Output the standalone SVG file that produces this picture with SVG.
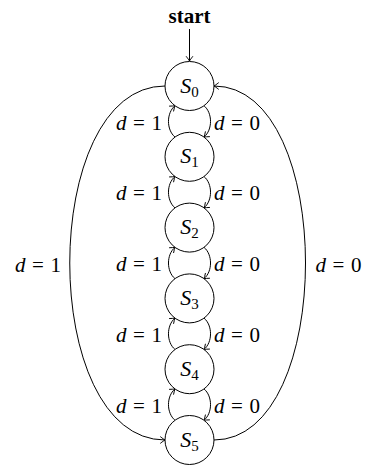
<svg xmlns="http://www.w3.org/2000/svg" width="366" height="469" viewBox="0 0 366 469">
<style>
.st{fill:#fff;stroke:#000;stroke-width:1}
.lbl{font-family:"Liberation Serif",serif;font-size:21px;fill:#000}
.nl{font-size:22px}
.e{fill:none;stroke:#000;stroke-width:1}
.it{font-style:italic}
.sub{font-size:15px}
</style>
<defs>
<marker id="arr" viewBox="-6 -6 8 12" markerWidth="8" markerHeight="12" refX="0" refY="0" orient="auto" markerUnits="userSpaceOnUse" overflow="visible">
<path d="M-4.5,-3.2 Q-1.5,-0.8 0,0 Q-1.5,0.8 -4.5,3.2" fill="none" stroke="#000" stroke-width="0.9" stroke-linecap="round"/>
</marker>
</defs>
<g id="connectors">
<line class="e" x1="189.5" y1="29" x2="189.5" y2="61" marker-end="url(#arr)"/>
<path class="e" d="M175,137.1 C166.3,129.8 166.3,113 175,105.7" marker-end="url(#arr)"/>
<path class="e" d="M204,105.7 C212.7,113 212.7,129.8 204,137.1" marker-end="url(#arr)"/>
<path class="e" d="M175,207.9 C166.3,200.6 166.3,183.8 175,176.5" marker-end="url(#arr)"/>
<path class="e" d="M204,176.5 C212.7,183.8 212.7,200.6 204,207.9" marker-end="url(#arr)"/>
<path class="e" d="M175,278.7 C166.3,271.4 166.3,254.6 175,247.3" marker-end="url(#arr)"/>
<path class="e" d="M204,247.3 C212.7,254.6 212.7,271.4 204,278.7" marker-end="url(#arr)"/>
<path class="e" d="M175,349.5 C166.3,342.2 166.3,325.4 175,318.1" marker-end="url(#arr)"/>
<path class="e" d="M204,318.1 C212.7,325.4 212.7,342.2 204,349.5" marker-end="url(#arr)"/>
<path class="e" d="M175,420.3 C166.3,413 166.3,396.2 175,388.9" marker-end="url(#arr)"/>
<path class="e" d="M204,388.9 C212.7,396.2 212.7,413 204,420.3" marker-end="url(#arr)"/>
<path class="e" d="M165,86 C38,86 38,440 165,440" marker-end="url(#arr)"/>
<path class="e" d="M214,440 C336,440 336,86 214,86" marker-end="url(#arr)"/>
</g>
<g id="labels" class="lbl">
<text x="189.5" y="23" text-anchor="middle" font-weight="bold">start</text>
<text x="139" y="129.5" text-anchor="middle"><tspan class="it">d</tspan><tspan dx="6.5">=</tspan><tspan dx="6.5">1</tspan></text>
<text x="237" y="129.5" text-anchor="middle"><tspan class="it">d</tspan><tspan dx="6.5">=</tspan><tspan dx="6.5">0</tspan></text>
<text x="139" y="200.3" text-anchor="middle"><tspan class="it">d</tspan><tspan dx="6.5">=</tspan><tspan dx="6.5">1</tspan></text>
<text x="237" y="200.3" text-anchor="middle"><tspan class="it">d</tspan><tspan dx="6.5">=</tspan><tspan dx="6.5">0</tspan></text>
<text x="139" y="271.1" text-anchor="middle"><tspan class="it">d</tspan><tspan dx="6.5">=</tspan><tspan dx="6.5">1</tspan></text>
<text x="237" y="271.1" text-anchor="middle"><tspan class="it">d</tspan><tspan dx="6.5">=</tspan><tspan dx="6.5">0</tspan></text>
<text x="139" y="341.9" text-anchor="middle"><tspan class="it">d</tspan><tspan dx="6.5">=</tspan><tspan dx="6.5">1</tspan></text>
<text x="237" y="341.9" text-anchor="middle"><tspan class="it">d</tspan><tspan dx="6.5">=</tspan><tspan dx="6.5">0</tspan></text>
<text x="139" y="412.7" text-anchor="middle"><tspan class="it">d</tspan><tspan dx="6.5">=</tspan><tspan dx="6.5">1</tspan></text>
<text x="237" y="412.7" text-anchor="middle"><tspan class="it">d</tspan><tspan dx="6.5">=</tspan><tspan dx="6.5">0</tspan></text>
<text x="38" y="272" text-anchor="middle"><tspan class="it">d</tspan><tspan dx="6.5">=</tspan><tspan dx="6.5">1</tspan></text>
<text x="338.5" y="272" text-anchor="middle"><tspan class="it">d</tspan><tspan dx="6.5">=</tspan><tspan dx="6.5">0</tspan></text>
</g>
<g id="S0"><circle class="st" cx="189.5" cy="86" r="24.5"/><text class="lbl nl" x="189.5" y="92.5" text-anchor="middle"><tspan class="it">S</tspan><tspan class="sub" dy="4">0</tspan></text></g>
<g id="S1"><circle class="st" cx="189.5" cy="156.8" r="24.5"/><text class="lbl nl" x="189.5" y="163.3" text-anchor="middle"><tspan class="it">S</tspan><tspan class="sub" dy="4">1</tspan></text></g>
<g id="S2"><circle class="st" cx="189.5" cy="227.6" r="24.5"/><text class="lbl nl" x="189.5" y="234.1" text-anchor="middle"><tspan class="it">S</tspan><tspan class="sub" dy="4">2</tspan></text></g>
<g id="S3"><circle class="st" cx="189.5" cy="298.4" r="24.5"/><text class="lbl nl" x="189.5" y="304.9" text-anchor="middle"><tspan class="it">S</tspan><tspan class="sub" dy="4">3</tspan></text></g>
<g id="S4"><circle class="st" cx="189.5" cy="369.2" r="24.5"/><text class="lbl nl" x="189.5" y="375.7" text-anchor="middle"><tspan class="it">S</tspan><tspan class="sub" dy="4">4</tspan></text></g>
<g id="S5"><circle class="st" cx="189.5" cy="440" r="24.5"/><text class="lbl nl" x="189.5" y="446.5" text-anchor="middle"><tspan class="it">S</tspan><tspan class="sub" dy="4">5</tspan></text></g>
</svg>
